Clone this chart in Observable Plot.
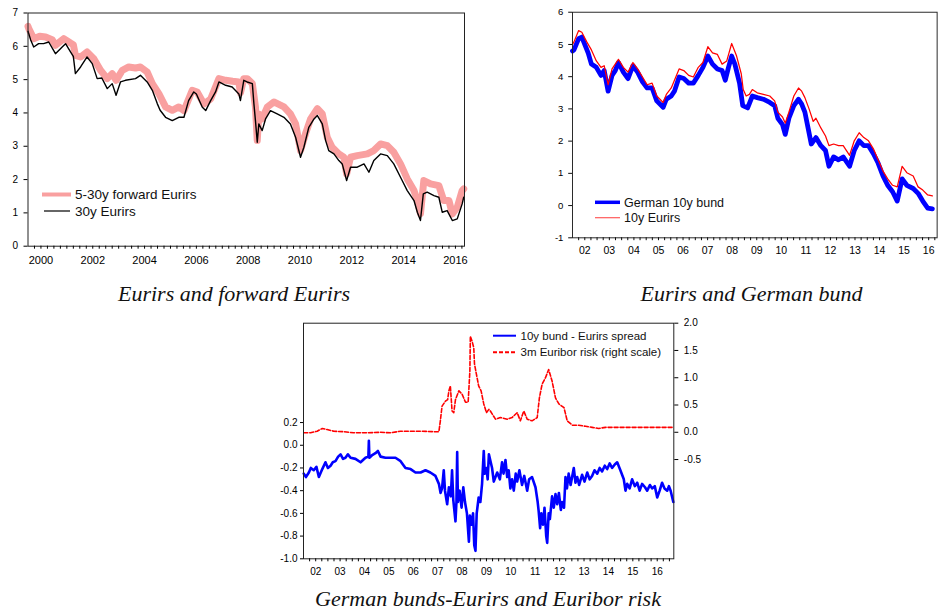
<!DOCTYPE html>
<html><head><meta charset="utf-8">
<script src="https://cdn.jsdelivr.net/npm/d3@7"></script>
<script src="https://cdn.jsdelivr.net/npm/@observablehq/plot@0.6"></script>
<style>
html,body{margin:0;padding:0;background:#fff;}
body{width:951px;height:615px;overflow:hidden;position:relative;font-family:"Liberation Sans",Arial,sans-serif;}
.panel{position:absolute;}
#overlay{position:absolute;left:0;top:0;pointer-events:none;}
</style></head>
<body>
<div id="p1" class="panel" style="left:0px;top:0px"></div>
<div id="p2" class="panel" style="left:540px;top:0px"></div>
<div id="p3" class="panel" style="left:270px;top:310px"></div>
<svg id="overlay" width="951" height="615"></svg>
<script>
// ---------- Panel 1 data: Eurirs and forward Eurirs ----------
const fwdEurirs = [[2000.0,6.6],[2000.03,6.53],[2000.22,6.23],[2000.45,6.3],[2000.68,6.28],[2000.93,6.2],[2001.06,6.03],[2001.38,6.23],[2001.64,6.1],[2001.75,6.05],[2001.83,5.73],[2002.03,5.68],[2002.28,5.83],[2002.54,5.63],[2002.8,5.28],[2003.06,5.03],[2003.25,5.18],[2003.4,4.98],[2003.64,5.28],[2003.89,5.38],[2004.15,5.35],[2004.34,5.38],[2004.6,5.23],[2004.8,4.88],[2005.05,4.58],[2005.31,4.18],[2005.57,4.08],[2005.82,4.18],[2006.02,4.07],[2006.34,4.68],[2006.53,4.63],[2006.79,4.27],[2007.05,4.42],[2007.37,5.03],[2007.63,4.98],[2007.9,4.95],[2008.14,4.93],[2008.2,4.6],[2008.33,5.03],[2008.46,5.03],[2008.66,4.88],[2008.78,4.18],[2008.85,3.17],[2008.91,3.97],[2009.04,3.82],[2009.24,4.18],[2009.49,4.33],[2009.88,4.18],[2010.13,3.97],[2010.33,3.67],[2010.52,2.87],[2010.71,3.37],[2010.91,3.82],[2011.17,4.13],[2011.36,3.97],[2011.55,3.27],[2011.74,2.97],[2012.0,2.77],[2012.19,2.67],[2012.3,2.17],[2012.45,2.67],[2012.71,2.72],[2013.1,2.77],[2013.35,2.87],[2013.61,3.07],[2013.87,3.02],[2014.12,2.82],[2014.38,2.47],[2014.64,2.02],[2014.9,1.67],[2015.03,1.37],[2015.15,0.97],[2015.28,1.97],[2015.54,1.87],[2015.86,1.82],[2016.05,1.37],[2016.25,1.37],[2016.38,0.97],[2016.57,1.17],[2016.76,1.67],[2016.82,1.72]];
const eurirs30 = [[2000.0,6.45],[2000.03,6.38],[2000.1,6.2],[2000.22,5.98],[2000.41,6.08],[2000.6,6.08],[2000.8,6.13],[2001.06,5.78],[2001.32,5.98],[2001.45,6.08],[2001.64,5.83],[2001.75,5.7],[2001.83,5.18],[2002.03,5.38],[2002.28,5.68],[2002.48,5.48],[2002.67,5.03],[2002.85,5.05],[2003.06,4.73],[2003.25,4.88],[2003.4,4.53],[2003.57,4.93],[2003.76,4.98],[2004.15,5.03],[2004.34,5.13],[2004.6,4.93],[2004.8,4.68],[2004.99,4.28],[2005.1,4.08],[2005.31,3.87],[2005.57,3.77],[2005.82,3.87],[2006.02,3.87],[2006.2,4.37],[2006.4,4.63],[2006.5,4.57],[2006.73,4.17],[2006.86,4.07],[2007.05,4.37],[2007.24,4.63],[2007.37,4.93],[2007.63,4.83],[2007.88,4.78],[2008.14,4.57],[2008.2,4.37],[2008.33,4.98],[2008.46,4.93],[2008.66,4.88],[2008.72,4.28],[2008.78,3.77],[2008.85,3.12],[2008.91,3.67],[2009.04,3.47],[2009.17,3.82],[2009.36,4.07],[2009.62,3.97],[2009.88,3.87],[2010.13,3.67],[2010.33,3.27],[2010.52,2.67],[2010.65,2.97],[2010.84,3.57],[2011.04,3.82],[2011.17,3.92],[2011.36,3.67],[2011.49,3.17],[2011.61,2.87],[2011.81,2.77],[2012.0,2.57],[2012.13,2.47],[2012.3,1.97],[2012.45,2.37],[2012.71,2.37],[2012.97,2.47],[2013.16,2.22],[2013.35,2.57],[2013.61,2.77],[2013.87,2.72],[2014.12,2.47],[2014.38,2.07],[2014.64,1.67],[2014.9,1.37],[2015.03,1.02],[2015.15,0.77],[2015.26,1.57],[2015.41,1.62],[2015.67,1.52],[2015.86,1.47],[2015.99,1.02],[2016.18,1.07],[2016.38,0.77],[2016.57,0.82],[2016.76,1.27],[2016.82,1.47]];
const yTicks1 = [0,1,2,3,4,5,6,7];
const yearLabels1 = ["2000","2002","2004","2006","2008","2010","2012","2014","2016"];

// ---------- Panel 2 data: Eurirs and German bund ----------
const bund10 = [[2002.0,4.8],[2002.06,4.83],[2002.25,5.18],[2002.38,5.23],[2002.51,4.98],[2002.64,4.73],[2002.77,4.39],[2002.97,4.29],[2003.16,4.04],[2003.29,4.19],[2003.45,3.55],[2003.61,4.04],[2003.74,4.19],[2003.87,4.44],[2004.07,4.14],[2004.26,3.94],[2004.46,4.34],[2004.65,4.14],[2004.85,3.84],[2005.04,3.65],[2005.24,3.65],[2005.43,3.25],[2005.69,3.05],[2005.82,3.3],[2006.02,3.4],[2006.15,3.55],[2006.34,3.99],[2006.53,3.94],[2006.73,3.8],[2006.92,3.8],[2007.12,4.04],[2007.31,4.29],[2007.51,4.64],[2007.7,4.39],[2007.9,4.24],[2008.09,4.19],[2008.22,3.89],[2008.35,4.29],[2008.48,4.64],[2008.61,4.39],[2008.8,3.8],[2008.93,3.1],[2009.13,3.03],[2009.32,3.4],[2009.52,3.35],[2009.77,3.3],[2010.03,3.2],[2010.23,3.1],[2010.36,2.71],[2010.55,2.51],[2010.66,2.21],[2010.81,2.71],[2011.01,3.1],[2011.2,3.3],[2011.33,3.15],[2011.46,2.9],[2011.59,2.41],[2011.72,1.91],[2011.91,2.11],[2012.11,1.86],[2012.3,1.71],[2012.44,1.22],[2012.63,1.51],[2012.83,1.42],[2013.02,1.51],[2013.28,1.22],[2013.47,1.71],[2013.67,2.01],[2013.86,1.86],[2014.05,1.86],[2014.25,1.61],[2014.44,1.32],[2014.64,0.92],[2014.83,0.63],[2015.03,0.43],[2015.22,0.14],[2015.42,0.83],[2015.61,0.63],[2015.87,0.53],[2016.07,0.38],[2016.26,0.14],[2016.46,-0.08],[2016.65,-0.1]];
const eurirs10 = [[2002.0,5.0],[2002.06,5.08],[2002.25,5.43],[2002.38,5.38],[2002.58,5.08],[2002.77,4.83],[2002.97,4.49],[2003.16,4.29],[2003.29,4.34],[2003.45,3.75],[2003.61,4.24],[2003.87,4.54],[2004.07,4.29],[2004.26,4.14],[2004.46,4.44],[2004.65,4.24],[2004.85,3.99],[2005.04,3.75],[2005.24,3.8],[2005.43,3.4],[2005.69,3.2],[2005.82,3.45],[2006.02,3.65],[2006.34,4.24],[2006.53,4.19],[2006.73,4.04],[2006.92,3.99],[2007.12,4.29],[2007.31,4.44],[2007.51,4.93],[2007.7,4.74],[2007.9,4.69],[2008.09,4.39],[2008.28,4.49],[2008.48,5.03],[2008.68,4.64],[2008.87,4.09],[2008.95,3.6],[2009.07,3.4],[2009.2,3.45],[2009.32,3.6],[2009.52,3.5],[2009.77,3.45],[2010.03,3.4],[2010.23,3.25],[2010.36,2.9],[2010.55,2.75],[2010.66,2.56],[2010.81,2.9],[2011.01,3.4],[2011.2,3.65],[2011.33,3.55],[2011.46,3.35],[2011.63,3.0],[2011.8,2.61],[2011.91,2.71],[2012.11,2.41],[2012.3,2.16],[2012.44,1.86],[2012.63,1.91],[2012.83,1.86],[2013.02,1.86],[2013.28,1.56],[2013.47,2.01],[2013.67,2.26],[2013.86,2.11],[2014.05,2.01],[2014.25,1.76],[2014.44,1.42],[2014.64,1.07],[2014.83,0.83],[2015.03,0.63],[2015.22,0.58],[2015.42,1.22],[2015.61,1.02],[2015.87,0.92],[2016.07,0.58],[2016.26,0.48],[2016.46,0.33],[2016.65,0.3]];
const yTicks2 = [-1,0,1,2,3,4,5,6];
const yearLabels23 = ["02","03","04","05","06","07","08","09","10","11","12","13","14","15","16"];

// ---------- Panel 3 data: German bunds-Eurirs and Euribor risk ----------
const bundSpread = [[2002.01,-0.25],[2002.1,-0.28],[2002.22,-0.24],[2002.3,-0.2],[2002.42,-0.22],[2002.53,-0.19],[2002.63,-0.28],[2002.77,-0.21],[2002.9,-0.15],[2003.0,-0.2],[2003.11,-0.18],[2003.2,-0.15],[2003.31,-0.14],[2003.42,-0.1],[2003.52,-0.08],[2003.62,-0.12],[2003.72,-0.11],[2003.82,-0.08],[2003.93,-0.11],[2004.13,-0.12],[2004.34,-0.15],[2004.54,-0.11],[2004.66,-0.1],[2004.68,0.04],[2004.7,-0.11],[2004.8,-0.09],[2004.95,-0.07],[2005.05,-0.05],[2005.16,-0.1],[2005.36,-0.11],[2005.57,-0.11],[2005.77,-0.11],[2005.98,-0.14],[2006.18,-0.2],[2006.39,-0.21],[2006.59,-0.24],[2006.8,-0.24],[2007.0,-0.22],[2007.2,-0.24],[2007.41,-0.27],[2007.55,-0.34],[2007.62,-0.42],[2007.68,-0.38],[2007.75,-0.22],[2007.8,-0.4],[2007.89,-0.52],[2007.96,-0.37],[2008.04,-0.45],[2008.09,-0.22],[2008.14,-0.48],[2008.23,-0.67],[2008.27,-0.5],[2008.3,-0.06],[2008.33,-0.5],[2008.4,-0.4],[2008.48,-0.55],[2008.55,-0.37],[2008.62,-0.5],[2008.7,-0.6],[2008.78,-0.85],[2008.82,-0.62],[2008.88,-0.7],[2008.95,-0.6],[2009.0,-0.88],[2009.05,-0.93],[2009.1,-0.6],[2009.18,-0.46],[2009.25,-0.5],[2009.32,-0.34],[2009.39,-0.05],[2009.43,-0.25],[2009.5,-0.2],[2009.55,-0.3],[2009.6,-0.08],[2009.73,-0.2],[2009.8,-0.32],[2009.94,-0.24],[2010.05,-0.3],[2010.14,-0.15],[2010.2,-0.25],[2010.28,-0.13],[2010.35,-0.28],[2010.41,-0.22],[2010.48,-0.38],[2010.55,-0.3],[2010.62,-0.4],[2010.7,-0.25],[2010.76,-0.32],[2010.85,-0.22],[2010.96,-0.35],[2011.05,-0.27],[2011.17,-0.4],[2011.25,-0.3],[2011.37,-0.28],[2011.51,-0.37],[2011.6,-0.5],[2011.64,-0.58],[2011.7,-0.73],[2011.75,-0.6],[2011.82,-0.7],[2011.88,-0.55],[2011.95,-0.8],[2011.99,-0.86],[2012.05,-0.6],[2012.1,-0.65],[2012.19,-0.45],[2012.26,-0.55],[2012.33,-0.43],[2012.4,-0.52],[2012.47,-0.42],[2012.55,-0.57],[2012.6,-0.5],[2012.68,-0.55],[2012.74,-0.28],[2012.8,-0.38],[2012.87,-0.25],[2012.95,-0.35],[2013.08,-0.2],[2013.15,-0.33],[2013.22,-0.28],[2013.3,-0.35],[2013.42,-0.26],[2013.52,-0.32],[2013.63,-0.24],[2013.73,-0.3],[2013.83,-0.27],[2013.93,-0.22],[2014.04,-0.25],[2014.14,-0.2],[2014.24,-0.23],[2014.35,-0.18],[2014.45,-0.21],[2014.55,-0.16],[2014.65,-0.2],[2014.76,-0.17],[2014.86,-0.15],[2014.99,-0.22],[2015.13,-0.3],[2015.2,-0.4],[2015.27,-0.34],[2015.37,-0.38],[2015.47,-0.3],[2015.58,-0.36],[2015.68,-0.33],[2015.78,-0.4],[2015.88,-0.34],[2016.0,-0.37],[2016.09,-0.4],[2016.2,-0.35],[2016.29,-0.38],[2016.4,-0.36],[2016.5,-0.46],[2016.6,-0.4],[2016.7,-0.33],[2016.8,-0.38],[2016.91,-0.4],[2016.98,-0.36],[2017.05,-0.4],[2017.16,-0.5]];
const euriborRisk = [[2002.01,-0.01],[2002.29,-0.01],[2002.56,0.02],[2002.77,0.07],[2002.97,0.05],[2003.24,0.02],[2003.65,0.01],[2004.06,-0.01],[2004.61,-0.01],[2005.16,0.0],[2005.57,-0.01],[2005.98,0.02],[2006.39,0.02],[2006.8,0.02],[2007.34,0.01],[2007.55,0.01],[2007.61,0.21],[2007.68,0.48],[2007.82,0.57],[2007.91,0.6],[2007.96,0.76],[2008.02,0.85],[2008.09,0.39],[2008.16,0.36],[2008.23,0.6],[2008.37,0.76],[2008.5,0.7],[2008.64,0.55],[2008.75,0.55],[2008.82,1.12],[2008.84,1.76],[2008.91,1.67],[2008.98,1.55],[2009.01,1.25],[2009.09,1.06],[2009.18,0.85],[2009.28,0.76],[2009.39,0.52],[2009.5,0.36],[2009.6,0.42],[2009.66,0.39],[2009.87,0.24],[2010.07,0.27],[2010.35,0.24],[2010.55,0.27],[2010.76,0.36],[2010.89,0.21],[2011.03,0.39],[2011.17,0.24],[2011.37,0.21],[2011.58,0.27],[2011.67,0.63],[2011.78,0.88],[2011.92,1.0],[2012.05,1.15],[2012.19,0.94],[2012.33,0.63],[2012.47,0.52],[2012.68,0.45],[2012.81,0.21],[2013.02,0.13],[2013.28,0.13],[2013.56,0.11],[2013.83,0.09],[2014.1,0.07],[2014.38,0.09],[2014.65,0.09],[2015.2,0.09],[2016.29,0.09],[2017.17,0.09]];
const leftTicks3 = ["-1.0","-0.8","-0.6","-0.4","-0.2","0.0","0.2"];
const rightTicks3 = ["-0.5","0.0","0.5","1.0","1.5","2.0"];

// ---------- helpers ----------
const X = d => d[0], Y = d => d[1];
const baseStyle = {fontFamily: "Liberation Sans, Arial, sans-serif", color: "#000", background: "transparent", overflow: "visible"};

// ---------- Panel 1 ----------
const lab1 = new Map(yearLabels1.map(l => [+l + 0.5, l]));
const p1 = Plot.plot({
  width: 470, height: 270,
  marginLeft: 27.5, marginRight: 6, marginTop: 12.5, marginBottom: 24.3,
  style: baseStyle,
  x: {domain: [2000, 2016.85]},
  y: {domain: [0, 7]},
  marks: [
    Plot.line(fwdEurirs, {x: X, y: Y, stroke: "#f9a0a0", strokeWidth: 7, strokeLinejoin: "round"}),
    Plot.line(eurirs30, {x: X, y: Y, stroke: "#000", strokeWidth: 1.4}),
    Plot.frame({stroke: "#222"}),
    Plot.axisY({ticks: yTicks1, tickSize: 4, tickPadding: 6, fontSize: 10, tickFormat: d => String(d), label: null}),
    Plot.axisX({ticks: d3.range(2000.25, 2016.84, 0.25), tickSize: 3, tickFormat: () => "", label: null}),
    Plot.axisX({ticks: [...lab1.keys()], tickSize: 0, tickPadding: 10, fontSize: 11, tickFormat: d => lab1.get(d), label: null})
  ]
});
document.getElementById("p1").append(p1);

// ---------- Panel 2 ----------
const lab2 = new Map(yearLabels23.map(l => [2000 + +l + 0.5, l]));
const p2 = Plot.plot({
  width: 430, height: 270,
  marginLeft: 33.5, marginRight: 15, marginTop: 12.3, marginBottom: 21.7,
  style: baseStyle,
  x: {domain: [2002, 2016.844]},
  y: {domain: [-1, 6]},
  marks: [
    Plot.line(bund10, {x: X, y: Y, stroke: "#0000ff", strokeWidth: 5, strokeLinejoin: "round"}),
    Plot.line(eurirs10, {x: X, y: Y, stroke: "#ff0000", strokeWidth: 1.3}),
    Plot.frame({stroke: "#222"}),
    Plot.axisY({ticks: yTicks2, tickSize: 4, tickPadding: 5.5, fontSize: 10, tickFormat: d => String(d), label: null}),
    Plot.axisX({ticks: d3.range(2002.25, 2016.84, 0.25), tickSize: 3, tickFormat: () => "", label: null}),
    Plot.axisX({ticks: [...lab2.keys()], tickSize: 0, tickPadding: 8.8, fontSize: 11, tickFormat: d => lab2.get(d), label: null})
  ]
});
document.getElementById("p2").append(p2);

// ---------- Panel 3 (dual scale) ----------
const toLeft = d3.scaleLinear().domain([-2.32, 2.0]).range([-1.0, 1.075]);
const lab3 = new Map(yearLabels23.map(l => [2000 + +l + 0.5, l]));
const left3 = new Map(leftTicks3.map(l => [+l, l]));
const right3 = new Map(rightTicks3.map(l => [toLeft(+l), l]));
const p3 = Plot.plot({
  width: 440, height: 270,
  marginLeft: 33, marginRight: 36.7, marginTop: 12.7, marginBottom: 21.7,
  style: baseStyle,
  x: {domain: [2002, 2017.18]},
  y: {domain: [-1.0, 1.075]},
  marks: [
    Plot.line(euriborRisk, {x: X, y: d => toLeft(d[1]), stroke: "#ff0000", strokeWidth: 1.6, strokeDasharray: "4,2"}),
    Plot.line(bundSpread, {x: X, y: Y, stroke: "#0000ff", strokeWidth: 2.6, strokeLinejoin: "round"}),
    Plot.frame({stroke: "#222"}),
    Plot.axisY({ticks: [...left3.keys()], tickSize: 3, tickPadding: 3, fontSize: 10, tickFormat: d => left3.get(d), label: null}),
    Plot.axisY({anchor: "right", ticks: [...right3.keys()], tickSize: 4, tickPadding: 6, fontSize: 10, tickFormat: d => right3.get(d), label: null}),
    Plot.axisX({ticks: d3.range(2002.25, 2017.17, 0.25), tickSize: 3, tickFormat: () => "", label: null}),
    Plot.axisX({ticks: [...lab3.keys()], tickSize: 0, tickPadding: 8.9, fontSize: 10, tickFormat: d => lab3.get(d), label: null})
  ]
});
document.getElementById("p3").append(p3);

// ---------- Legends and captions (overlay) ----------
const ov = d3.select("#overlay");
function legendRow(x1, x2, y, color, width, dash, text, tx, fs) {
  ov.append("line").attr("x1", x1).attr("x2", x2).attr("y1", y).attr("y2", y)
    .attr("stroke", color).attr("stroke-width", width).attr("stroke-dasharray", dash || null);
  ov.append("text").attr("x", tx).attr("y", y).attr("dy", "0.35em")
    .attr("font-family", "Liberation Sans, Arial, sans-serif").attr("font-size", fs).attr("fill", "#111").text(text);
}
legendRow(42, 71, 194.5, "#f9a0a0", 4, null, "5-30y forward Eurirs", 75, 13.5);
legendRow(44, 70, 211, "#000", 1.2, null, "30y Eurirs", 75, 13.5);
legendRow(595, 620, 202.3, "#0000ff", 3.5, null, "German 10y bund", 624, 12.5);
legendRow(595, 620, 217.7, "#ff5a5a", 1.2, null, "10y Eurirs", 624, 12.5);
legendRow(493, 516, 335.7, "#0000ff", 2, null, "10y bund - Eurirs spread", 520.5, 11.5);
legendRow(493, 516, 352.3, "#ff0000", 2, "4,2", "3m Euribor risk (right scale)", 520.5, 11.5);

function caption(x, y, text) {
  ov.append("text").attr("x", x).attr("y", y).attr("text-anchor", "middle")
    .attr("font-family", "Liberation Serif, Times New Roman, serif").attr("font-style", "italic")
    .attr("font-size", 22).attr("fill", "#111").text(text);
}
caption(234, 301, "Eurirs and forward Eurirs");
caption(751.5, 301, "Eurirs and German bund");
caption(488, 606, "German bunds-Eurirs and Euribor risk");
</script>
</body></html>
